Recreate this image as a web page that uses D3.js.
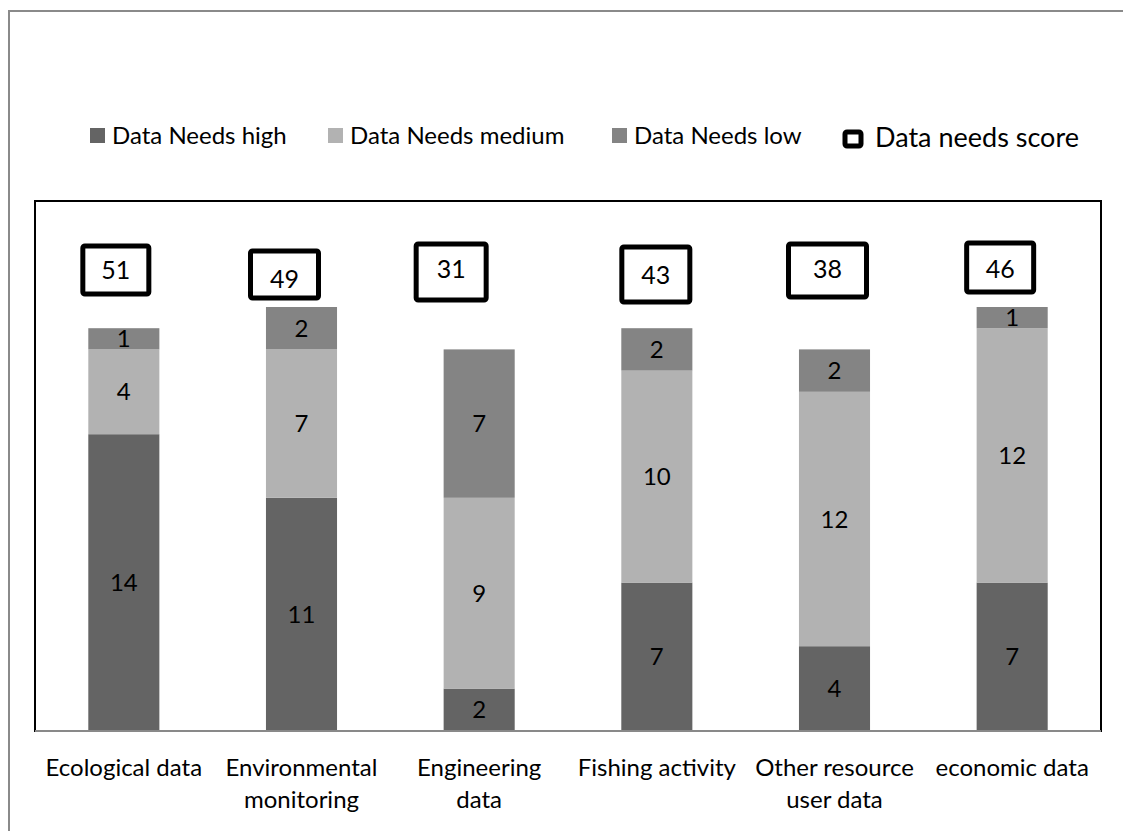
<!DOCTYPE html>
<html><head><meta charset="utf-8">
<script src="https://cdn.jsdelivr.net/npm/d3@7"></script>
<style>body{margin:0;background:#fff}svg{display:block}</style>
</head><body>
<svg id="c" width="1123" height="831"></svg>
<script>
const categories = ["Ecological data", "Environmental monitoring", "Engineering data", "Fishing activity", "Other resource user data", "economic data"];
const categoryLines = [["Ecological data"], ["Environmental", "monitoring"], ["Engineering", "data"], ["Fishing activity"], ["Other resource", "user data"], ["economic data"]];
const seriesNames = ["Data Needs high", "Data Needs medium", "Data Needs low"];
const needsHigh = [14, 11, 2, 7, 4, 7];
const needsMedium = [4, 7, 9, 10, 12, 12];
const needsLow = [1, 2, 7, 2, 2, 1];
const scores = [51, 49, 31, 43, 38, 46];
const scoreLegend = "Data needs score";

// layout (annotation boxes placed by hand in the original)
const boxLayout = [
  {dx: -8, y: 246, w: 66, h: 48, ty: 0},
  {dx: -17, y: 251, w: 68, h: 47, ty: 4},
  {dx: -28, y: 244, w: 70, h: 56, ty: -3},
  {dx: -1, y: 247, w: 68, h: 55, ty: 0},
  {dx: -7, y: 244, w: 78, h: 53, ty: -2},
  {dx: -12, y: 243, w: 67, h: 49, ty: 1}
];
const colors = ["#646464", "#b2b2b2", "#848484"];
const FONT = "Lato, 'Open Sans', sans-serif";

const svg = d3.select("#c");
// outer frame
svg.append("rect").attr("x", 9).attr("y", 11).attr("width", 1200).attr("height", 900)
  .attr("fill", "none").attr("stroke", "#8a8a8a").attr("stroke-width", 2);

const plot = {left: 35, top: 201, right: 1101, bottom: 731};
const x = d3.scaleBand().domain(categories).range([plot.left, plot.right]).paddingInner(0.6).paddingOuter(0.3);
const y = d3.scaleLinear().domain([0, 25]).range([plot.bottom, plot.top]);

// plot frame
svg.append("rect").attr("x", plot.left).attr("y", plot.top)
  .attr("width", plot.right - plot.left).attr("height", plot.bottom - plot.top)
  .attr("fill", "none").attr("stroke", "#000").attr("stroke-width", 2);

const table = categories.map((c, i) => ({cat: c, high: needsHigh[i], medium: needsMedium[i], low: needsLow[i]}));
const stack = d3.stack().keys(["high", "medium", "low"])(table);

const g = svg.append("g");
stack.forEach((layer, li) => {
  g.selectAll(null).data(layer).enter().append("rect")
    .attr("x", d => x(d.data.cat)).attr("width", x.bandwidth())
    .attr("y", d => y(d[1])).attr("height", d => y(d[0]) - y(d[1]))
    .attr("fill", colors[li]);
  g.selectAll(null).data(layer).enter().append("text")
    .attr("x", d => x(d.data.cat) + x.bandwidth() / 2)
    .attr("y", d => (y(d[0]) + y(d[1])) / 2)
    .attr("dy", "0.36em").attr("text-anchor", "middle")
    .attr("font-family", FONT).attr("font-size", 24).attr("fill", "#000")
    .text(d => d[1] - d[0]);
});

// axis line
svg.append("line").attr("x1", plot.left).attr("x2", plot.right).attr("y1", plot.bottom).attr("y2", plot.bottom)
  .attr("stroke", "#898989").attr("stroke-width", 2);

// category labels
categories.forEach((c, i) => {
  const t = svg.append("text").attr("text-anchor", "middle")
    .attr("font-family", FONT).attr("font-size", 24).attr("fill", "#000");
  categoryLines[i].forEach((ln, k) => {
    t.append("tspan").attr("x", x(c) + x.bandwidth() / 2).attr("y", 776 + k * 32).text(ln);
  });
});

// score boxes
scores.forEach((s, i) => {
  const b = boxLayout[i];
  const cx = x(categories[i]) + x.bandwidth() / 2 + b.dx;
  svg.append("rect").attr("x", cx - b.w / 2).attr("y", b.y).attr("width", b.w).attr("height", b.h)
    .attr("rx", 2).attr("fill", "#fff").attr("stroke", "#000").attr("stroke-width", 5);
  svg.append("text").attr("x", cx).attr("y", b.y + b.h / 2 + b.ty).attr("dy", "0.36em")
    .attr("text-anchor", "middle").attr("font-family", FONT).attr("font-size", 25).text(s);
});

// legend
const legendX = [90, 328, 612];
seriesNames.forEach((n, i) => {
  svg.append("rect").attr("x", legendX[i]).attr("y", 128).attr("width", 15).attr("height", 15).attr("fill", colors[i]);
  svg.append("text").attr("x", legendX[i] + 22).attr("y", 144).attr("font-family", FONT)
    .attr("font-size", 24).text(n);
});
svg.append("rect").attr("x", 845).attr("y", 132).attr("width", 16).attr("height", 14).attr("rx", 2)
  .attr("fill", "#fff").attr("stroke", "#000").attr("stroke-width", 5);
svg.append("text").attr("x", 875).attr("y", 147).attr("font-family", FONT).attr("font-size", 27).text(scoreLegend);
</script>
</body></html>
